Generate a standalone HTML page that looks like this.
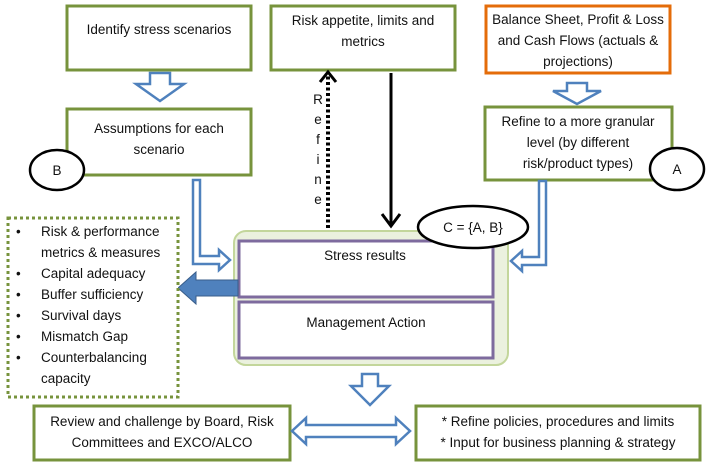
<!DOCTYPE html>
<html><head><meta charset="utf-8"><style>
html,body{margin:0;padding:0;background:#fff;}
svg{display:block;font-family:"Liberation Sans",sans-serif;}
text{font-size:13.5px;fill:#111;}
</style></head><body>
<svg width="709" height="468" viewBox="0 0 709 468" xmlns="http://www.w3.org/2000/svg">
<g fill="#fff" stroke="#77933c" stroke-width="3">
<rect x="67" y="6" width="184" height="64"/>
<rect x="271" y="6" width="184" height="64"/>
<rect x="67" y="109" width="184" height="66"/>
<rect x="485" y="107" width="187" height="73"/>
<rect x="34" y="406" width="256" height="54"/>
<rect x="416" y="406" width="284" height="54"/>
</g>
<rect x="486" y="6" width="184" height="67" fill="#fff" stroke="#e46c0a" stroke-width="3"/>
<text x="159" y="34" text-anchor="middle">Identify stress scenarios</text>
<text x="363" y="25" text-anchor="middle">Risk appetite, limits and</text>
<text x="363" y="46" text-anchor="middle">metrics</text>
<text x="578" y="24" text-anchor="middle">Balance Sheet, Profit &amp; Loss</text>
<text x="578" y="45" text-anchor="middle">and Cash Flows (actuals &amp;</text>
<text x="578" y="66" text-anchor="middle">projections)</text>
<text x="159" y="133" text-anchor="middle">Assumptions for each</text>
<text x="159" y="154" text-anchor="middle">scenario</text>
<text x="578" y="126" text-anchor="middle">Refine to a more granular</text>
<text x="578" y="147" text-anchor="middle">level (by different</text>
<text x="578" y="168" text-anchor="middle">risk/product types)</text>
<text x="162" y="426" text-anchor="middle">Review and challenge by Board, Risk</text>
<text x="162" y="447" text-anchor="middle">Committees and EXCO/ALCO</text>
<text x="558" y="426" text-anchor="middle">* Refine policies, procedures and limits</text>
<text x="558" y="447" text-anchor="middle">* Input for business planning &amp; strategy</text>
<g fill="#fff" stroke="#4f81bd" stroke-width="2.5" stroke-linejoin="miter">
<path d="M150,73 H170 V84 H184 L160,101 L136,84 H150 Z"/>
<path d="M567,83 H587 V91 H601 L577,104 L553,91 H567 Z"/>
<path d="M362,374 H378 V386 H389 L370,405 L351,386 H362 Z"/>
<path d="M292,431 L306,418 V425 H396 V418 L410,431 L396,444 V437 H306 V444 Z"/>
<path d="M193,180 H200 V256 H219 V250 L230,260 L219,270 V264 H193 Z"/>
<path d="M539,181 H546 V265 H522 V271 L511,261 L522,251 V257 H539 Z"/>
</g>
<rect x="234" y="231" width="274" height="134" rx="12" fill="#ebf1de" stroke="#c3d69b" stroke-width="2"/>
<rect x="239" y="241" width="254" height="56" fill="#fff" stroke="#7e6b9e" stroke-width="3"/>
<rect x="239" y="302" width="254" height="56" fill="#fff" stroke="#7e6b9e" stroke-width="3"/>
<text x="365" y="260" text-anchor="middle">Stress results</text>
<text x="366" y="327" text-anchor="middle">Management Action</text>
<path d="M238,280 H196 V272 L178,288 L196,304 V296 H238 Z" fill="#4f81bd" stroke="#385d8a" stroke-width="1"/>
<rect x="8" y="218" width="170" height="179" fill="#fff" stroke="#77933c" stroke-width="3" stroke-dasharray="3,3"/>
<g>
<text x="16" y="236">•</text><text x="41" y="236">Risk &amp; performance</text>
<text x="41" y="257">metrics &amp; measures</text>
<text x="16" y="278">•</text><text x="41" y="278">Capital adequacy</text>
<text x="16" y="299">•</text><text x="41" y="299">Buffer sufficiency</text>
<text x="16" y="320">•</text><text x="41" y="320">Survival days</text>
<text x="16" y="341">•</text><text x="41" y="341">Mismatch Gap</text>
<text x="16" y="362">•</text><text x="41" y="362">Counterbalancing</text>
<text x="41" y="383">capacity</text>
</g>
<line x1="328" y1="228" x2="328" y2="74" stroke="#000" stroke-width="4" stroke-dasharray="3,2.5"/>
<path d="M320,82 L328,72 L336,82" fill="none" stroke="#000" stroke-width="3"/>
<g text-anchor="middle">
<text x="318" y="104">R</text><text x="318" y="124">e</text><text x="318" y="144">f</text>
<text x="318" y="164">i</text><text x="318" y="184">n</text><text x="318" y="204">e</text>
</g>
<line x1="391" y1="73" x2="391" y2="225" stroke="#000" stroke-width="3"/>
<path d="M382,214 L391,226 L400,214" fill="none" stroke="#000" stroke-width="3"/>
<ellipse cx="57" cy="170" rx="27" ry="20" fill="#fff" stroke="#000" stroke-width="2.5"/>
<text x="57" y="175" text-anchor="middle">B</text>
<ellipse cx="677" cy="169" rx="27" ry="21" fill="#fff" stroke="#000" stroke-width="2.5"/>
<text x="677" y="174" text-anchor="middle">A</text>
<ellipse cx="473" cy="227" rx="55" ry="21" fill="#fff" stroke="#000" stroke-width="2.5"/>
<text x="473" y="232" text-anchor="middle">C = {A, B}</text>
</svg>
</body></html>
